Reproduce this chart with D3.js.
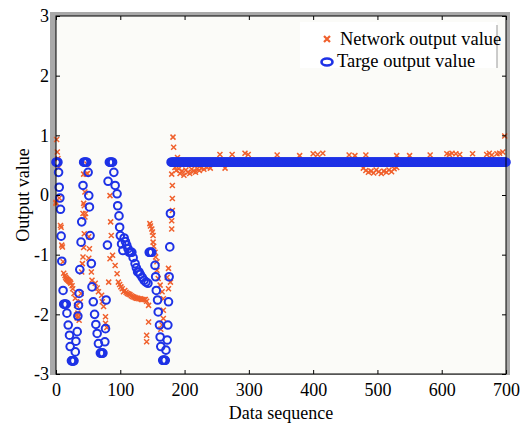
<!DOCTYPE html>
<html>
<head>
<meta charset="utf-8">
<script src="https://cdnjs.cloudflare.com/ajax/libs/d3/7.8.5/d3.min.js"></script>
<style>
  body { margin: 0; background: #fff; }
  text { font-family: "Liberation Serif", "Times New Roman", serif; }
</style>
</head>
<body>
<div id="chart"></div>
<script>
// values: [data sequence, output value]
let targetWave = [
    [0,0.55],[1,0.55],[2,0.55],[3,0.55],[4,0.38],[5,0.13],[6,-0.05],[7,-0.24],[8,-0.69],[9,-1.11],
    [11,-1.60],[12,-1.83],[13,-1.83],[14,-1.83],[15,-1.83],[16,-1.83],[17,-1.98],[19,-2.18],[21,-2.35],[22,-2.54],
    [24,-2.78],[25,-2.78],[26,-2.78],[27,-2.78],[28,-2.78],[30,-2.63],[31,-2.45],[33,-2.29],[34,-2.03],[35,-1.85],
    [36,-1.65],[37,-1.25],[39,-0.79],[40,-0.45],[42,0.16],[43,0.55],[44,0.55],[45,0.55],[46,0.55],[47,0.55],
    [48,0.55],[50,0.38],[51,-0.01],[52,-0.20],[53,-0.68],[55,-1.15],[56,-1.54],[58,-1.79],[60,-2.00],[62,-2.17],
    [64,-2.32],[66,-2.49],[69,-2.65],[70,-2.65],[71,-2.65],[72,-2.65],[73,-2.65],[76,-2.46],[77,-2.24],[78,-1.76],
    [80,-0.84],[81,0.23],[83,0.55],[84,0.55],[85,0.55],[86,0.55],[87,0.55],[88,0.55],[90,0.38],[92,0.16],
    [95,0.02],[96,-0.18],[98,-0.35],[99,-0.54],[100,-0.68],[102,-0.82],[104,-0.93],[106,-0.72],[108,-0.78],[110,-0.84],
    [112,-0.90],[114,-0.96],[116,-0.96],[118,-0.96],[120,-1.05],[123,-1.15],[125,-1.22],[127,-1.29],[129,-1.29],[131,-1.33],
    [134,-1.38],[137,-1.43],[140,-1.46],[143,-1.48],[145,-0.96],[146,-0.96],[147,-0.96],[149,-0.96],[154,-1.18],[155,-1.37],
    [156,-1.60],[158,-1.76],[159,-1.96],[161,-2.18],[162,-2.38],[163,-2.54],[166,-2.77],[167,-2.77],[168,-2.77],[169,-2.77],
    [170,-2.77],[171,-2.60],[173,-2.43],[174,-2.18],[175,-1.79],[176,-1.37],[177,-0.87],[178,-0.31]
];
// flat part of the target: [from, to, value]
let targetFlat = [179, 700, 0.55];

let networkWave = [
    [0,-0.12],[0,-0.14],[1,0.93],[2,0.72],[3,0.61],[4,0.46],[5,-0.05],[7,-0.51],[8,-0.54],[9,-0.84],
    [10,-0.87],[11,-1.12],[12,-1.31],[14,-1.35],[15,-1.38],[16,-1.40],[17,-1.41],[18,-1.42],[19,-1.43],[20,-1.44],
    [21,-1.45],[22,-1.46],[23,-1.48],[25,-1.52],[26,-1.57],[28,-1.65],[30,-1.73],[32,-1.85],[32,-2.01],[33,-2.06],
    [34,-1.98],[35,-2.04],[36,-2.10],[38,-1.79],[39,-1.65],[40,-1.29],[41,-1.15],[42,-1.04],[43,-0.88],[44,-0.65],
    [45,-0.37],[42,-0.31],[43,-0.14],[45,0.05],[47,0.35],[49,0.36],[48,0.52],[43,0.35],[44,-0.18],[46,-0.31],
    [51,-0.70],[52,-0.90],[51,-1.06],[55,-1.29],[56,-1.43],[61,-1.48],[64,-1.56],[66,-1.62],[71,-1.68],[72,-1.79],
    [74,-1.87],[77,-2.04],[77,-2.15],[79,-2.22],[82,-1.46],[84,-1.07],[86,-0.68],[84,-0.01],[85,-0.45],[88,-1.01],
    [92,-1.18],[95,-1.32],[97,-1.46],[99,-1.50],[101,-1.54],[103,-1.57],[105,-1.62],[107,-1.60],[109,-1.63],[111,-1.65],
    [113,-1.66],[115,-1.67],[117,-1.69],[119,-1.70],[121,-1.71],[123,-1.72],[125,-1.73],[127,-1.73],[129,-1.74],[131,-1.74],
    [133,-1.75],[135,-1.75],[137,-1.75],[139,-1.75],[141,-1.78],[144,-1.85],[144,-2.13],[141,-2.35],[141,-2.46],[146,-0.48],
    [147,-0.52],[149,-0.57],[150,-0.62],[151,-0.68],[151,-0.79],[152,-0.86],[154,-0.96],[155,-1.04],[157,-1.12],[157,-1.26],
    [159,-1.40],[162,-1.51],[165,-1.62],[167,-1.74],[167,-1.93],[167,-2.07],[165,-2.18],[163,-2.25],[175,-1.23],[178,-1.46],
    [175,-1.57],[173,-1.38],[180,-0.57],[180,-0.43],[181,-0.26],[181,-0.06],[181,0.16],[180,0.35],[182,0.97],[183,0.80],
    [185,0.46],[187,0.41],[189,0.63],[191,0.44]
];
// network output in the flat part: covered by the target band except these points
let networkFlat = [192, 700, 0.55];
let networkOff = [
    [193,0.36],[196,0.40],[199,0.33],[202,0.42],[205,0.38],[208,0.36],[211,0.43],[214,0.40],[217,0.38],[220,0.44],
    [223,0.41],[226,0.45],[230,0.43],[235,0.46],[240,0.45],[255,0.68],[263,0.45],[274,0.68],[294,0.70],[299,0.68],
    [344,0.67],[379,0.66],[400,0.69],[407,0.68],[415,0.70],[456,0.67],[465,0.66],[478,0.45],[482,0.41],[482,0.67],
    [486,0.38],[490,0.40],[494,0.37],[498,0.42],[502,0.39],[506,0.36],[510,0.40],[514,0.38],[518,0.42],[522,0.39],
    [526,0.44],[530,0.46],[530,0.66],[550,0.66],[582,0.67],[608,0.69],[612,0.68],[616,0.70],[622,0.69],[628,0.68],
    [648,0.69],[670,0.68],[674,0.70],[678,0.67],[686,0.69],[690,0.70],[695,0.72],[698,0.99]
];

let xTicks = [0, 100, 200, 300, 400, 500, 600, 700];
let yTicks = [-3, -2, -1, 0, 1, 2, 3];
let legendLabels = ['Network output value', 'Targe output value'];

let width = 526, height = 428;
let margin = { top: 16, left: 56, right: 20, bottom: 54 };

let red = '#f0602c', blue = '#1e32e6';

let svg = d3.select('#chart')
    .append('svg')
    .attr('width', width)
    .attr('height', height);

let x = d3.scaleLinear().domain([0, 700]).range([margin.left, width - margin.right]);
let y = d3.scaleLinear().domain([-3, 3]).range([height - margin.bottom, margin.top]);

// gray frame behind the plot box
svg.append('rect')
    .attr('x', margin.left - 6).attr('y', margin.top - 4)
    .attr('width', width - margin.right - margin.left + 10)
    .attr('height', height - margin.bottom - margin.top + 5)
    .attr('fill', '#a9a9a9');
svg.append('rect')
    .attr('x', margin.left).attr('y', margin.top)
    .attr('width', width - margin.right - margin.left)
    .attr('height', height - margin.bottom - margin.top)
    .attr('fill', '#fbfbf8');

// expand the flat runs to one point per sequence step
function run(r) {
    return d3.range(r[0], r[1] + 1).map(function(i) { return [i, r[2]]; });
}
let targetData = targetWave.concat(run(targetFlat));
let networkData = networkWave.concat(run(networkFlat), networkOff);

let s = 2.5;
svg.append('g')
    .selectAll('path')
    .data(networkData)
    .enter().append('path')
    .attr('d', function(d) {
        let cx = x(d[0]), cy = y(d[1]);
        return 'M' + (cx - s) + ',' + (cy - s) + 'L' + (cx + s) + ',' + (cy + s) +
            'M' + (cx - s) + ',' + (cy + s) + 'L' + (cx + s) + ',' + (cy - s);
    })
    .attr('stroke', red)
    .attr('stroke-width', 1.5)
    .attr('fill', 'none');

svg.append('g')
    .selectAll('circle')
    .data(targetData)
    .enter().append('circle')
    .attr('cx', function(d) { return x(d[0]); })
    .attr('cy', function(d) { return y(d[1]); })
    .attr('r', 3.8)
    .attr('fill', 'none')
    .attr('stroke', blue)
    .attr('stroke-width', 2);

// axes, ticks point inward
let fs = '18px';
let xAxis = svg.append('g')
    .attr('transform', 'translate(0,' + (height - margin.bottom) + ')')
    .call(d3.axisBottom(x).tickValues(xTicks).tickFormat(d3.format('d'))
        .tickSizeInner(-4).tickSizeOuter(0).tickPadding(9));
let yAxis = svg.append('g')
    .attr('transform', 'translate(' + margin.left + ',0)')
    .call(d3.axisLeft(y).tickValues(yTicks).tickFormat(function(d) { return d < 0 ? '-' + (-d) : d; })
        .tickSizeInner(-4).tickSizeOuter(0).tickPadding(7));
let xTop = svg.append('g')
    .attr('transform', 'translate(0,' + margin.top + ')')
    .call(d3.axisTop(x).tickValues(xTicks).tickSizeInner(-4).tickSizeOuter(0).tickFormat(''));
let yRight = svg.append('g')
    .attr('transform', 'translate(' + (width - margin.right) + ',0)')
    .call(d3.axisRight(y).tickValues(yTicks).tickSizeInner(-4).tickSizeOuter(0).tickFormat(''));

[xAxis, yAxis, xTop, yRight].forEach(function(a) {
    a.select('.domain').remove();
    a.selectAll('line').attr('stroke', '#000');
    a.selectAll('text')
        .attr('fill', '#000')
        .style('font-family', '"Liberation Serif", serif')
        .style('font-size', fs);
});

// plot box border
svg.append('rect')
    .attr('x', margin.left).attr('y', margin.top)
    .attr('width', width - margin.right - margin.left)
    .attr('height', height - margin.bottom - margin.top)
    .attr('fill', 'none')
    .attr('stroke', '#000')
    .attr('stroke-width', 1);

// axis titles
svg.append('text')
    .attr('x', (margin.left + width - margin.right) / 2)
    .attr('y', 419)
    .attr('text-anchor', 'middle')
    .style('font-size', fs)
    .text('Data sequence');
svg.append('text')
    .attr('transform', 'translate(29,' + (margin.top + height - margin.bottom) / 2 + ') rotate(-90)')
    .attr('text-anchor', 'middle')
    .style('font-size', fs)
    .text('Output value');

// legend
let legend = svg.append('g');
legend.append('rect')
    .attr('x', 300).attr('y', 22)
    .attr('width', 197).attr('height', 46)
    .attr('fill', '#fff');
legend.append('line')
    .attr('x1', 497).attr('x2', 497).attr('y1', 25).attr('y2', 68)
    .attr('stroke', '#999');
legend.append('path')
    .attr('d', 'M324,36L330,42M324,42L330,36')
    .attr('stroke', red)
    .attr('stroke-width', 2.2);
legend.append('ellipse')
    .attr('cx', 327).attr('cy', 62)
    .attr('rx', 5.5).attr('ry', 3.5)
    .attr('fill', 'none')
    .attr('stroke', blue)
    .attr('stroke-width', 2.6);
legend.selectAll('text')
    .data(legendLabels)
    .enter().append('text')
    .attr('x', function(d, i) { return i === 0 ? 340 : 337; })
    .attr('y', function(d, i) { return i === 0 ? 45 : 67; })
    .style('font-size', '18.5px')
    .text(function(d) { return d; });
</script>
</body>
</html>
